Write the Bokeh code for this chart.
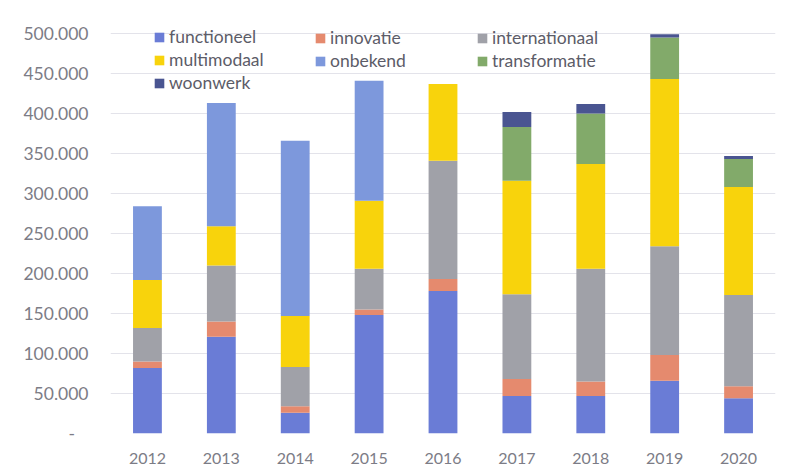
from bokeh.plotting import figure
from bokeh.models import Legend, LegendItem, FixedTicker, CustomJSTickFormatter, Range1d, FactorRange
from bokeh.embed import file_html
from bokeh.resources import INLINE

years = ["2012", "2013", "2014", "2015", "2016", "2017", "2018", "2019", "2020"]
functioneel = [82000, 121000, 26000, 148000, 178000, 47000, 47000, 66000, 44000]
innovatie = [8000, 19000, 8000, 7000, 15000, 21000, 18000, 32000, 15000]
internationaal = [42000, 70000, 49000, 51000, 148000, 106000, 141000, 136000, 114000]
multimodaal = [60000, 49000, 64000, 85000, 96000, 142000, 131000, 209000, 135000]
onbekend = [92000, 154000, 219000, 150000, 0, 0, 0, 0, 0]
transformatie = [0, 0, 0, 0, 0, 67000, 63000, 52000, 35000]
woonwerk = [0, 0, 0, 0, 0, 19000, 12000, 4000, 4000]
y_ticks = [0, 50000, 100000, 150000, 200000, 250000, 300000, 350000, 400000, 450000, 500000]

series = ["functioneel", "innovatie", "internationaal", "multimodaal", "onbekend", "transformatie", "woonwerk"]
colors = ["#6a7cd6", "#e58a6e", "#a0a1a8", "#f8d30c", "#7d98dc", "#82aa6a", "#4a5591"]

data = dict(years=years, functioneel=functioneel, innovatie=innovatie, internationaal=internationaal,
            multimodaal=multimodaal, onbekend=onbekend, transformatie=transformatie, woonwerk=woonwerk)

FONT = "Lato"

p = figure(x_range=FactorRange(*years), y_range=Range1d(0, 510000), width=783, height=466,
           output_backend="svg", toolbar_location=None,
           min_border_left=110, min_border_right=8, min_border_top=25, min_border_bottom=33)

renderers = p.vbar_stack(series, x="years", width=0.39, color=colors, source=data, line_color=None)

p.outline_line_color = None
p.xgrid.grid_line_color = None
p.ygrid.grid_line_color = "#e3e3ea"
p.ygrid.grid_line_width = 1
p.yaxis.ticker = FixedTicker(ticks=y_ticks)
p.yaxis.formatter = CustomJSTickFormatter(code="""
if (tick == 0) { return "-\u00a0\u00a0\u00a0"; }
const s = Math.round(tick).toString();
return s.replace(/\\B(?=(\\d{3})+(?!\\d))/g, ".");
""")
for ax in (p.xaxis, p.yaxis):
    ax.axis_line_color = None
    ax.major_tick_line_color = None
    ax.minor_tick_line_color = None
    ax.major_tick_out = 0
    ax.major_tick_in = 0
    ax.major_label_text_font = FONT
    ax.major_label_text_color = "#7c7c86"
p.yaxis.major_label_text_font_size = "17.5px"
p.xaxis.major_label_text_font_size = "16px"
p.yaxis.major_label_standoff = 22
p.xaxis.major_label_standoff = 19

r = dict(zip(series, renderers))

def make_legend(names, loc):
    lg = Legend(items=[LegendItem(label=n, renderers=[r[n]]) for n in names], location=loc,
                orientation="vertical", glyph_width=12, glyph_height=12, label_standoff=4,
                label_text_font=FONT, label_text_font_size="17.5px", label_text_color="#5c5c68",
                label_height=20, spacing=2, padding=0, margin=0,
                border_line_color=None, background_fill_alpha=0)
    p.add_layout(lg, "center")

make_legend(["functioneel", "multimodaal", "woonwerk"], (43, 340))
make_legend(["innovatie", "onbekend"], (204, 362))
make_legend(["internationaal", "transformatie"], (366, 362))

open("out.html", "w").write(file_html(p, INLINE))
